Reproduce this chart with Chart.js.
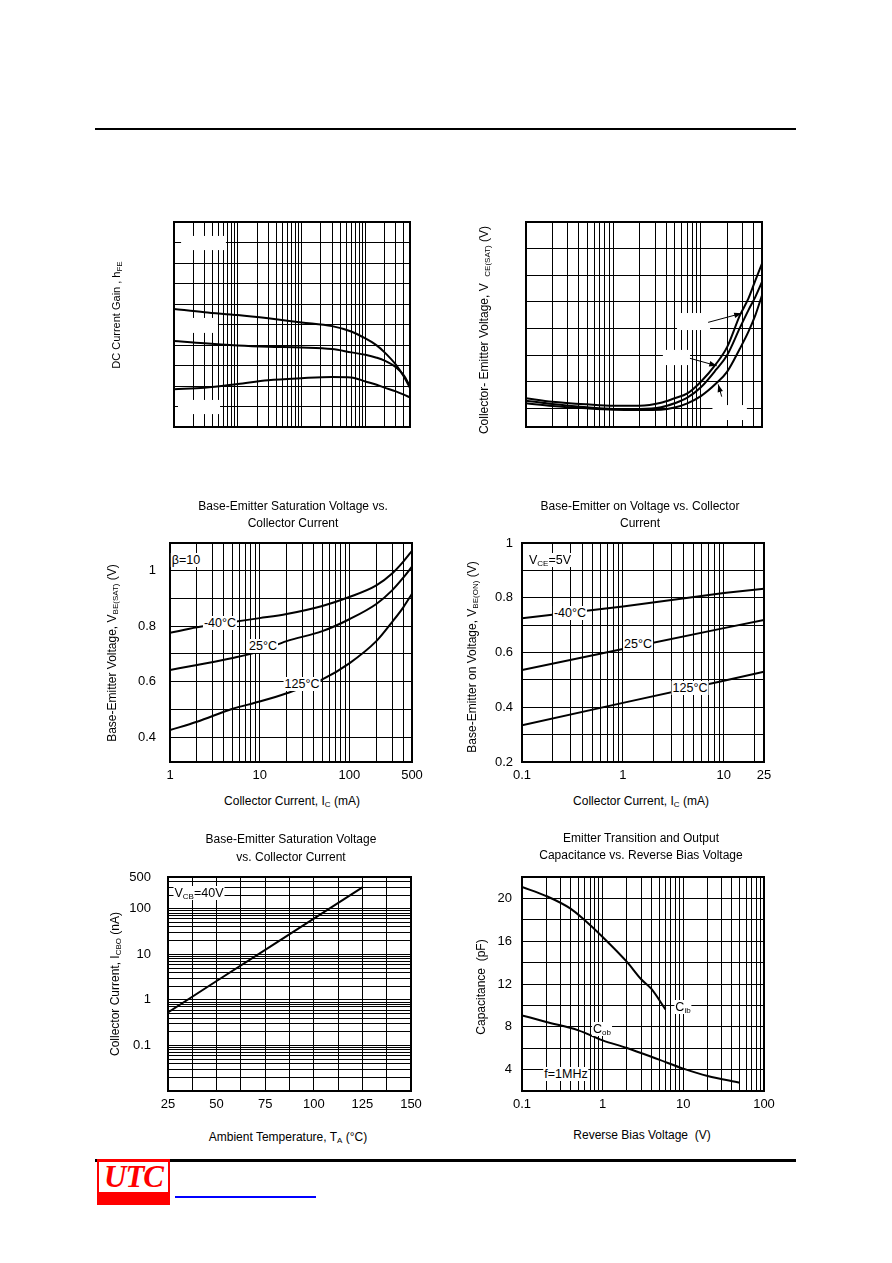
<!DOCTYPE html>
<html>
<head>
<meta charset="utf-8">
<script src="https://cdn.jsdelivr.net/npm/chart.js@4.4.0/dist/chart.umd.min.js"></script>
<style>
  body { margin: 0; background: #fff; font-family: "Liberation Sans", Arial, sans-serif; color: #000; }
  #page { position: relative; width: 892px; height: 1263px; overflow: hidden; }
  canvas { position: absolute; }
  .t { position: absolute; font-size: 12px; white-space: pre; text-align: center; transform: translate(-50%, -50%); }
  .rot { transform: translate(-50%, -50%) rotate(-90deg); }
  .lbl { position: absolute; font-size: 12.5px; background: #fff; white-space: nowrap; transform: translate(-50%, -50%); padding: 0 1px; line-height: 14px; }
  sub { font-size: 8px; vertical-align: -2px; line-height: 0; }
  .rule { position: absolute; background: #000; }
</style>
</head>
<body>
<div id="page">
  <div class="rule" style="left:95px;top:128px;width:701px;height:2px"></div>

  <canvas id="c1"></canvas>
  <canvas id="c2"></canvas>
  <canvas id="c3"></canvas>
  <canvas id="c4"></canvas>
  <canvas id="c5"></canvas>
  <canvas id="c6"></canvas>

  <!-- axis titles -->
  <div class="t rot" style="left:116px;top:315px;font-size:11px">DC Current Gain , h<sub>FE</sub></div>
  <div class="t rot" style="left:484px;top:330px">Collector- Emitter Voltage, V  <sub>CE(SAT)</sub> (V)</div>

  <div class="t" style="left:293px;top:514px;line-height:16.5px">Base-Emitter Saturation Voltage vs.
Collector Current</div>
  <div class="t rot" style="left:112px;top:653px">Base-Emitter Voltage, V<sub>BE(SAT)</sub> (V)</div>
  <div class="t" style="left:292px;top:801px">Collector Current, I<sub>C</sub> (mA)</div>

  <div class="t" style="left:640px;top:514px;line-height:16.5px">Base-Emitter on Voltage vs. Collector
Current</div>
  <div class="t rot" style="left:472px;top:657px">Base-Emitter on Voltage, V<sub>BE(ON)</sub> (V)</div>
  <div class="t" style="left:641px;top:801px">Collector Current, I<sub>C</sub> (mA)</div>

  <div class="t" style="left:291px;top:848px;line-height:17.5px">Base-Emitter Saturation Voltage
vs. Collector Current</div>
  <div class="t rot" style="left:115px;top:984px">Collector Current, I<sub>CBO</sub> (nA)</div>
  <div class="t" style="left:288px;top:1137px">Ambient Temperature, T<sub>A</sub> (°C)</div>

  <div class="t" style="left:641px;top:847px;line-height:17px">Emitter Transition and Output
Capacitance vs. Reverse Bias Voltage</div>
  <div class="t rot" style="left:481px;top:987px">Capacitance  (pF)</div>
  <div class="t" style="left:642px;top:1135px">Reverse Bias Voltage  (V)</div>

  <!-- curve labels -->
  <div class="lbl" style="left:186px;top:560px">β=10</div>
  <div class="lbl" style="left:220px;top:623px">-40°C</div>
  <div class="lbl" style="left:263px;top:646px">25°C</div>
  <div class="lbl" style="left:302px;top:684px">125°C</div>

  <div class="lbl" style="left:550px;top:560px">V<sub>CE</sub>=5V</div>
  <div class="lbl" style="left:570px;top:613px">-40°C</div>
  <div class="lbl" style="left:638px;top:644px">25°C</div>
  <div class="lbl" style="left:690px;top:688px">125°C</div>

  <div class="lbl" style="left:199px;top:893px">V<sub>CB</sub>=40V</div>

  <div class="lbl" style="left:683px;top:1007px">C<sub>ib</sub></div>
  <div class="lbl" style="left:602px;top:1029px">C<sub>ob</sub></div>
  <div class="lbl" style="left:566px;top:1074px">f=1MHz</div>

  <!-- footer -->
  <div class="rule" style="left:95px;top:1159px;width:701px;height:3px"></div>
  <div style="position:absolute;left:97px;top:1159px;width:73px;height:46px;background:#f00"></div>
  <div style="position:absolute;left:99px;top:1162px;width:69px;height:30px;background:#fff;color:#f00;font:italic bold 31px 'Liberation Serif', serif;line-height:30px;text-align:center;letter-spacing:-1px">UTC</div>
  <div style="position:absolute;left:175px;top:1196px;width:141px;height:2px;background:#00f"></div>
</div>

<script>
// ---- data ----

// DC current gain vs collector current (mA)
const gainIc = [0.1, 0.3, 1, 3, 10, 30, 60, 100, 150, 200, 300, 400, 500]
const gainHi = [288, 280, 273, 265, 255, 246, 233, 216, 199, 182, 152, 123, 95]
const gainMid = [210, 204, 199, 196, 194, 190, 182, 176, 169, 162, 146, 126, 99]
const gainLo = [92, 96, 105, 114, 119, 122, 121, 111, 103, 96, 87, 79, 72]

// VCE(SAT) vs collector current (mA)
const vceIc = [1, 2, 5, 10, 20, 35, 50, 70, 100, 150, 200, 280, 350, 420, 500]
const vceA = [0.138, 0.125, 0.115, 0.11, 0.11, 0.121, 0.138, 0.156, 0.2, 0.268, 0.331, 0.45, 0.513, 0.581, 0.644]
const vceB = [0.129, 0.116, 0.104, 0.098, 0.098, 0.104, 0.119, 0.14, 0.179, 0.246, 0.3, 0.403, 0.469, 0.519, 0.575]
const vceC = [0.119, 0.109, 0.1, 0.095, 0.094, 0.095, 0.103, 0.119, 0.146, 0.194, 0.238, 0.325, 0.388, 0.45, 0.525]
const vceArrows = [
  { from: [121, 0.423], to: [293, 0.457] },
  { from: [75, 0.288], to: [152, 0.26] },
  { from: [173, 0.144], to: [158, 0.19] }
]

// VBE(SAT) vs collector current (mA), beta = 10
const vbeSatIc = [1, 2, 5, 10, 20, 50, 100, 200, 300, 400, 500]
const vbeSatM40 = [0.776, 0.796, 0.815, 0.829, 0.844, 0.873, 0.905, 0.947, 0.99, 1.033, 1.072]
const vbeSat25 = [0.642, 0.66, 0.685, 0.709, 0.746, 0.782, 0.825, 0.88, 0.929, 0.975, 1.015]
const vbeSat125 = [0.425, 0.455, 0.502, 0.528, 0.558, 0.608, 0.666, 0.746, 0.815, 0.868, 0.917]

// VBE(ON) vs collector current (mA), VCE = 5V
const vbeOnIc = [0.1, 1, 10, 25]
const vbeOnM40 = [0.725, 0.768, 0.817, 0.833]
const vbeOn25 = [0.536, 0.613, 0.689, 0.719]
const vbeOn125 = [0.334, 0.416, 0.497, 0.53]

// ICBO (nA) vs ambient temperature (C)
const icboTemp = [25, 50, 75, 100, 125]
const icboNa = [0.53, 2.6, 12.5, 61, 295]

// capacitance (pF) vs reverse bias (V)
const cibV = [0.1, 0.2, 0.4, 0.6, 1, 2, 3, 4, 6]
const cibPf = [21.07, 20.22, 19.04, 17.95, 16.39, 14.06, 12.44, 11.56, 9.63]
const cobV = [0.1, 0.2, 0.5, 1, 2, 5, 10, 20, 50]
const cobPf = [9.07, 8.45, 7.67, 6.73, 6.02, 4.93, 4.09, 3.4, 2.78]

// tick labels shown
const satXLabels = [1, 10, 100, 500]
const satYLabels = [0.4, 0.6, 0.8, 1]
const onXLabels = [0.1, 1, 10, 25]
const onYLabels = [0.2, 0.4, 0.6, 0.8, 1]
const icboXLabels = [25, 50, 75, 100, 125, 150]
const icboYLabels = [0.1, 1, 10, 100, 500]
const capXLabels = [0.1, 1, 10, 100]
const capYLabels = [4, 8, 12, 16, 20]

// ---- helpers ----
function logTicks(min, max) {
  const out = []
  for (let e = Math.floor(Math.log10(min)); e <= Math.ceil(Math.log10(max)); e++) {
    for (let m = 1; m < 10; m++) {
      const v = Number((m * Math.pow(10, e)).toPrecision(6))
      if (v >= min * 0.999999 && v <= max * 1.000001) out.push(v)
    }
  }
  if (out[out.length - 1] < max) out.push(max)
  return out
}

function linTicks(min, max, step) {
  const out = []
  for (let v = min; v <= max + 1e-9; v += step) out.push(Number(v.toPrecision(6)))
  return out
}

function series(xs, ys) {
  return xs.map((x, i) => ({ x: x, y: ys[i] }))
}

function curve(xs, ys, straight) {
  return {
    data: series(xs, ys),
    borderColor: "#000",
    borderWidth: 2,
    pointRadius: 0,
    fill: false,
    tension: straight ? 0 : 0.4,
    cubicInterpolationMode: straight ? "default" : "monotone"
  }
}

const FONT = { family: "'Liberation Sans', Arial, sans-serif", size: 13 }
// room around the plot area: the top one has to exceed label half height + tick padding
const L = 60, R = 25, T = 34, B = 30

function axis(type, min, max, tickValues, labels, side, pad) {
  return {
    type: type,
    min: min,
    max: max,
    afterBuildTicks: (s) => { s.ticks = tickValues.map((v) => ({ value: v })) },
    afterFit: (s) => { if (side === "x") s.height = B; else s.width = L },
    grid: { color: "#000", lineWidth: 1, drawTicks: false },
    border: { display: false },
    ticks: {
      display: labels !== null,
      autoSkip: false,
      maxRotation: 0,
      padding: pad,
      color: "#000",
      font: FONT,
      callback: (v) => (labels && labels.some((l) => Math.abs(l - v) < 1e-9 * Math.max(1, l)) ? String(v) : "")
    }
  }
}

// frame, white masks behind covered labels and pointer arrows
const overlay = {
  id: "overlay",
  beforeDatasetsDraw(chart, args, opts) {
    const { ctx, chartArea: a } = chart
    const w = a.right - a.left, h = a.bottom - a.top
    ctx.save()
    ctx.fillStyle = "#fff";
    (opts.masks || []).forEach((m) => {
      ctx.fillRect(a.left + m[0] * w, a.top + m[1] * h, (m[2] - m[0]) * w, (m[3] - m[1]) * h)
    })
    ctx.restore()
  },
  afterDatasetsDraw(chart, args, opts) {
    const { ctx, chartArea: a, scales } = chart
    ctx.save()
    ctx.strokeStyle = "#000"
    ctx.fillStyle = "#000"
    ctx.lineWidth = 1;
    (opts.arrows || []).forEach((ar) => {
      const x0 = scales.x.getPixelForValue(ar.from[0]), y0 = scales.y.getPixelForValue(ar.from[1])
      const x1 = scales.x.getPixelForValue(ar.to[0]), y1 = scales.y.getPixelForValue(ar.to[1])
      const ang = Math.atan2(y1 - y0, x1 - x0)
      ctx.beginPath()
      ctx.moveTo(x0, y0)
      ctx.lineTo(x1, y1)
      ctx.stroke()
      ctx.beginPath()
      ctx.moveTo(x1, y1)
      ctx.lineTo(x1 - 8 * Math.cos(ang - 0.35), y1 - 8 * Math.sin(ang - 0.35))
      ctx.lineTo(x1 - 8 * Math.cos(ang + 0.35), y1 - 8 * Math.sin(ang + 0.35))
      ctx.closePath()
      ctx.fill()
    })
    ctx.lineWidth = 2
    ctx.strokeRect(a.left, a.top, a.right - a.left, a.bottom - a.top)
    ctx.restore()
  }
}

function makeChart(id, box, xAxis, yAxis, datasets, extra) {
  const cv = document.getElementById(id)
  cv.width = box.w + L + R
  cv.height = box.h + T + B
  cv.style.left = (box.left - L) + "px"
  cv.style.top = (box.top - T) + "px"

  new Chart(cv.getContext("2d"), {
    type: "line",
    data: { datasets: datasets },
    options: {
      responsive: false,
      animation: false,
      devicePixelRatio: 1,
      events: [],
      layout: { padding: { top: T, right: R, left: 0, bottom: 0 } },
      plugins: {
        legend: { display: false },
        tooltip: { enabled: false },
        overlay: extra || {}
      },
      scales: { x: xAxis, y: yAxis }
    },
    plugins: [overlay]
  })
}

// top left: hFE
makeChart("c1", { left: 174, top: 222, w: 236, h: 205 },
  axis("logarithmic", 0.1, 500, logTicks(0.1, 500), null, "x", 6),
  axis("linear", 0, 500, linTicks(0, 500, 50), null, "y", 8),
  [curve(gainIc, gainHi), curve(gainIc, gainMid), curve(gainIc, gainLo)],
  { masks: [[0.03, 0.068, 0.22, 0.137], [0, 0.468, 0.186, 0.541], [0.017, 0.868, 0.195, 0.937]] })

// top right: VCE(SAT)
makeChart("c2", { left: 526, top: 222, w: 236, h: 205 },
  axis("logarithmic", 1, 500, logTicks(1, 500), null, "x", 6),
  axis("linear", 0.03, 0.8, linTicks(0.1, 0.8, 0.1), null, "y", 8),
  [curve(vceIc, vceA), curve(vceIc, vceB), curve(vceIc, vceC)],
  { masks: [[0.64, 0.444, 0.78, 0.527], [0.58, 0.624, 0.695, 0.698], [0.79, 0.893, 0.936, 0.966]], arrows: vceArrows })

// middle left: VBE(SAT)
makeChart("c3", { left: 170, top: 543, w: 242, h: 219 },
  axis("logarithmic", 1, 500, logTicks(1, 500), satXLabels, "x", 6),
  axis("linear", 0.31, 1.1, linTicks(0.4, 1.1, 0.1), satYLabels, "y", 14),
  [curve(vbeSatIc, vbeSatM40), curve(vbeSatIc, vbeSat25), curve(vbeSatIc, vbeSat125)])

// middle right: VBE(ON)
makeChart("c4", { left: 522, top: 543, w: 242, h: 219 },
  axis("logarithmic", 0.1, 25, logTicks(0.1, 25), onXLabels, "x", 6),
  axis("linear", 0.2, 1, linTicks(0.2, 1, 0.1), onYLabels, "y", 9),
  [curve(vbeOnIc, vbeOnM40, true), curve(vbeOnIc, vbeOn25, true), curve(vbeOnIc, vbeOn125, true)])

// bottom left: ICBO
makeChart("c5", { left: 168, top: 877, w: 243, h: 214 },
  axis("linear", 25, 150, linTicks(25, 150, 12.5), icboXLabels, "x", 6),
  axis("logarithmic", 0.01, 500, logTicks(0.01, 500), icboYLabels, "y", 17),
  [curve(icboTemp, icboNa, true)])

// bottom right: capacitance
makeChart("c6", { left: 522, top: 877, w: 242, h: 214 },
  axis("logarithmic", 0.1, 100, logTicks(0.1, 100), capXLabels, "x", 6),
  axis("linear", 2, 22, linTicks(2, 22, 2), capYLabels, "y", 10),
  [curve(cibV, cibPf), curve(cobV, cobPf)])
</script>
</body>
</html>
